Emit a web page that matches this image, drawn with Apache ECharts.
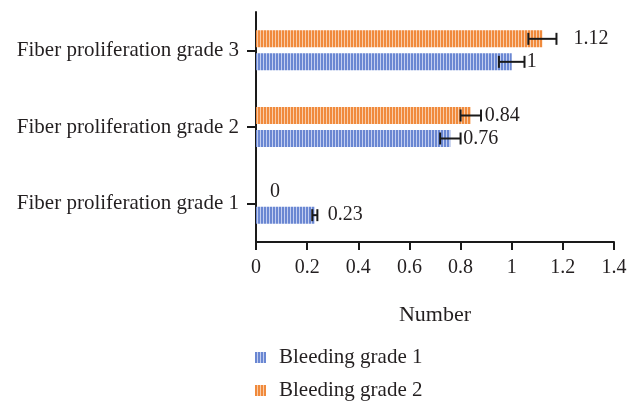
<!DOCTYPE html>
<html>
<head>
<meta charset="utf-8">
<script src="https://cdn.jsdelivr.net/npm/echarts@6/dist/echarts.min.js"></script>
<style>
  html, body { margin: 0; padding: 0; background: #fff; }
  #chart { width: 640px; height: 402px; }
</style>
</head>
<body>
<div id="chart"></div>
<script>
// Categories (bottom to top) and series values with their error half-widths
const categories = ['Fiber proliferation grade 1', 'Fiber proliferation grade 2', 'Fiber proliferation grade 3'];
const seriesNames = ['Bleeding grade 1', 'Bleeding grade 2'];
const bleeding1 = [0.23, 0.76, 1];
const bleeding1Err = [0.01, 0.04, 0.05];
const bleeding2 = [0, 0.84, 1.12];
const bleeding2Err = [0, 0.04, 0.055];
const xTicks = [0, 0.2, 0.4, 0.6, 0.8, 1, 1.2, 1.4];

// Styling
const FONT = 'Liberation Serif';
const FS = 20;       // numbers
const FS_TEXT = 21;  // words
const TEXT = '#231f20';
const BAR_W = 17;
const BAR_GAP_PX = 6;
// extra space between each value label and its bar end, per category
const labelDist1 = [13, 13, 15];
const labelDist2 = [14, 14, 31];

function stripes(dark, light) {
  const c = document.createElement('canvas');
  c.width = 3; c.height = 4;
  const g = c.getContext('2d');
  g.fillStyle = light; g.fillRect(0, 0, 3, 4);
  g.fillStyle = dark; g.fillRect(0, 0, 2, 4);
  return { image: c, repeat: 'repeat' };
}
const blueFill = stripes('#6a87d2', '#c3cef0');
const orangeFill = stripes('#f08a3c', '#f9cca8');

function barSeries(name, values, dists, fill) {
  return {
    name: name,
    type: 'bar',
    barWidth: BAR_W,
    barGap: (BAR_GAP_PX / BAR_W * 100) + '%',
    itemStyle: { color: fill },
    data: values.map((v, i) => ({
      value: v,
      label: { distance: dists[i] }
    })),
    label: {
      show: true,
      position: 'right',
      color: TEXT,
      fontFamily: FONT,
      fontSize: FS,
      formatter: p => String(p.value)
    },
    z: 2
  };
}

// Error bars drawn with the axes' own coordinates, shifted to each bar's slot
function errorSeries(values, errs, shift) {
  return {
    type: 'custom',
    silent: true,
    z: 5,
    data: values.map((v, i) => [i, v, errs[i]]),
    renderItem: function (params, api) {
      const cat = api.value(0), v = api.value(1), e = api.value(2);
      if (!e) return null;
      const lo = api.coord([v - e, cat]);
      const hi = api.coord([v + e, cat]);
      const y = lo[1] + shift;
      const cap = 6;
      const style = { stroke: '#1a1a1a', lineWidth: 2 };
      return {
        type: 'group',
        children: [
          { type: 'line', shape: { x1: lo[0], y1: y, x2: hi[0], y2: y }, style: style },
          { type: 'line', shape: { x1: lo[0], y1: y - cap, x2: lo[0], y2: y + cap }, style: style },
          { type: 'line', shape: { x1: hi[0], y1: y - cap, x2: hi[0], y2: y + cap }, style: style }
        ]
      };
    }
  };
}

function legendItem(name, top) {
  return {
    left: 250,
    top: top,
    icon: 'rect',
    itemWidth: 11,
    itemHeight: 11,
    selectedMode: false,
    data: [name],
    textStyle: { fontFamily: FONT, fontSize: FS_TEXT, color: TEXT, padding: [0, 0, 0, 8] }
  };
}

const half = (BAR_W + BAR_GAP_PX) / 2;
const chart = echarts.init(document.getElementById('chart'), null, { renderer: 'canvas' });
chart.setOption({
  animation: false,
  textStyle: { fontFamily: FONT, color: TEXT },
  grid: { left: 256, right: 26, top: 12, bottom: 160, containLabel: false },
  legend: [legendItem(seriesNames[0], 342), legendItem(seriesNames[1], 375)],
  xAxis: {
    type: 'value',
    min: xTicks[0],
    max: xTicks[xTicks.length - 1],
    interval: 0.2,
    name: 'Number',
    nameLocation: 'middle',
    nameGap: 62,
    nameTextStyle: { fontFamily: FONT, fontSize: 22, color: TEXT },
    axisLine: { show: true, lineStyle: { color: '#1a1a1a', width: 2 } },
    axisTick: { show: true, length: 8, lineStyle: { color: '#1a1a1a', width: 2 } },
    axisLabel: { fontFamily: FONT, fontSize: FS, color: TEXT, margin: 16,
      formatter: v => String(+v.toFixed(1)) },
    splitLine: { show: false }
  },
  yAxis: {
    type: 'category',
    data: categories,
    axisLine: { show: true, lineStyle: { color: '#1a1a1a', width: 2 } },
    axisTick: { show: true, alignWithLabel: true, length: 9, lineStyle: { color: '#1a1a1a', width: 2 } },
    axisLabel: { fontFamily: FONT, fontSize: FS_TEXT, color: TEXT, margin: 17 }
  },
  series: [
    // the first bar series takes the upper slot of each category
    barSeries(seriesNames[1], bleeding2, labelDist2, orangeFill),
    barSeries(seriesNames[0], bleeding1, labelDist1, blueFill),
    errorSeries(bleeding2, bleeding2Err, -half),
    errorSeries(bleeding1, bleeding1Err, half)
  ]
});
</script>
</body>
</html>
